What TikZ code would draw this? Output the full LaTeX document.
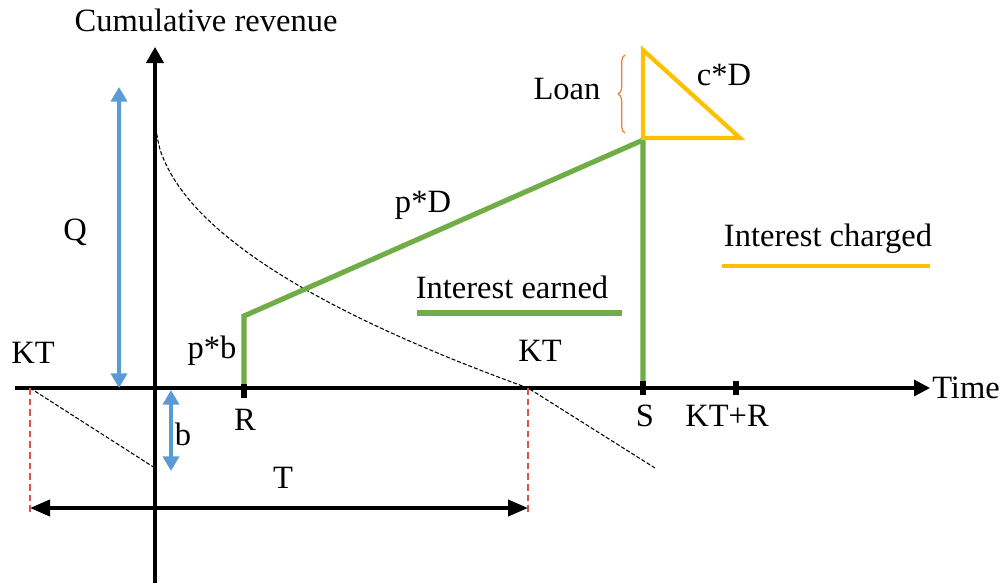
\documentclass[tikz,border=0pt]{standalone}
\usepackage{fontspec}
\setmainfont{Liberation Serif}
\usetikzlibrary{arrows.meta,decorations.pathreplacing}
\definecolor{cblue}{HTML}{5B9BD5}
\definecolor{cgreen}{HTML}{70AD47}
\definecolor{cyellow}{HTML}{FFC000}
\definecolor{corange}{HTML}{ED7D31}
\definecolor{cred}{HTML}{D9534F}
\tikzset{
  lbl/.style={font=\fontsize{24.4}{28}\selectfont, inner sep=0pt, text=black},
  axis/.style={line width=2.3pt},
  bluearr/.style={cblue, line width=3pt, {Triangle[length=11pt,width=12pt]}-{Triangle[length=11pt,width=12pt]}},
  greenl/.style={cgreen, line width=3.8pt},
  yell/.style={cyellow, line width=3.2pt},
  reddash/.style={cred, line width=0.8pt, dash pattern=on 5pt off 3pt},
  blackdash/.style={black, line width=0.8pt, dash pattern=on 3pt off 1.5pt},
  tick/.style={line width=4.5pt},
}
\begin{document}
\begin{tikzpicture}[x=0.75pt,y=-0.75pt]
\useasboundingbox (0,0) rectangle (1003,586);
% coordinates
\coordinate (ybot) at (155,583);
\coordinate (ytop) at (155,47);
\coordinate (xl) at (15,388);
\coordinate (xr) at (930,388);
\coordinate (KTl) at (30,388);
\coordinate (KTr) at (528,388);
\coordinate (Rb) at (244,388);
\coordinate (Rt) at (244,316);
\coordinate (Sb) at (643,388);
\coordinate (St) at (643,140);
\coordinate (KTR) at (736,388);
\coordinate (cstart) at (155,118);
\coordinate (cend) at (655,468);
\coordinate (lend) at (155,468);
% axes
\draw[axis,-{Triangle[length=12pt,width=13pt]}] (ybot) -- (ytop);
\draw[axis,-{Triangle[length=12pt,width=12pt]}] (xl) -- (xr);
% dashed curve
\draw[blackdash] plot[domain=0.5:373, samples=90, smooth] ({155+\x},{118+13.98*sqrt(\x)}) -- (cend);
\draw[blackdash] (KTl) -- (lend);
% red dashed
\draw[reddash] (KTl) -- (30,512);
\draw[reddash] (KTr) -- (528,512);
% T arrow
\coordinate (Tl) at (30,508);
\coordinate (Tr) at (528,508);
\draw[line width=3pt,{Triangle[length=15pt,width=12pt]}-{Triangle[length=15pt,width=12pt]}] (Tl) -- (Tr);
% blue arrows
\coordinate (Qt) at (119,87);
\coordinate (Qb) at (119,388);
\draw[bluearr] (Qt) -- (Qb);
\coordinate (bt) at (171,390);
\coordinate (bb) at (171,471);
\draw[bluearr] (bt) -- (bb);
% green
\draw[greenl] (Rb) -- (Rt) -- (St) -- (Sb);
\coordinate (ge1) at (417,313);
\coordinate (ge2) at (622,313);
\draw[greenl] (ge1) -- (ge2);
% ticks
\draw[tick] (244,384) -- (244,398);
\draw[tick] (643,381) -- (643,395);
\draw[tick] (KTR) ++(0,-7) -- ++(0,14);
% yellow triangle
\coordinate (ya) at (643,50);
\coordinate (yb) at (643,138);
\coordinate (yc) at (740,138);
\draw[yell, line join=miter] (ya) -- (yb) -- (yc) -- cycle;
\coordinate (yl1) at (722,266);
\coordinate (yl2) at (930,266);
\draw[yell] (yl1) -- (yl2);
% brace
\draw[corange, line width=0.9pt, decorate, decoration={brace, amplitude=5pt}] (625,133) -- (625,55);
% labels
\node[lbl] (cum) at (206,20) {Cumulative revenue};
\node[lbl] (time) at (966,388) {Time};
\node[lbl] (Q) at (75,232) {Q};
\node[lbl] (kt1) at (33,353) {KT};
\node[lbl] (pb) at (212,351) {p*b};
\node[lbl] (R) at (245,420) {R};
\node[lbl] (b) at (183,434) {b};
\node[lbl] (T) at (283,478) {T};
\node[lbl] (pD) at (423,205) {p*D};
\node[lbl] (ie) at (512,287) {Interest earned};
\node[lbl] (kt2) at (540,351) {KT};
\node[lbl] (S) at (645,416) {S};
\node[lbl] (ktr) at (727,416) {KT+R};
\node[lbl] (ic) at (828,239) {Interest charged};
\node[lbl] (loan) at (567,89) {Loan};
\node[lbl] (cD) at (724,75) {c*D};
\end{tikzpicture}
\end{document}
